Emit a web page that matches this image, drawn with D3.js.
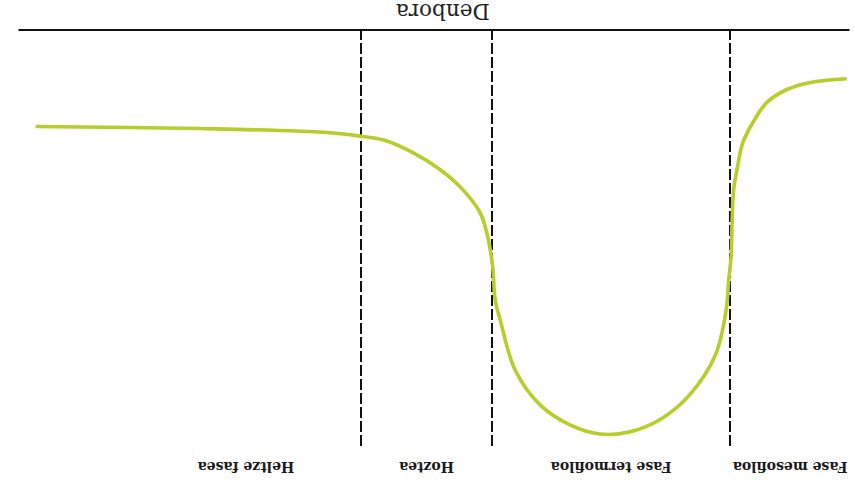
<!DOCTYPE html>
<html>
<head>
<meta charset="utf-8">
<script src="https://cdn.jsdelivr.net/npm/d3@7"></script>
<style>
  html, body { margin: 0; padding: 0; background: #fff; }
  svg { display: block; }
</style>
</head>
<body>
<svg id="chart" width="855" height="486"></svg>
<script>
// Time (days, 0-100 relative units) and temperature (relative 0-100)
const days  = [0.4, 4.8, 7.6, 10.0, 11.7, 12.9, 13.6, 14.0, 14.2, 14.3, 14.6, 14.9, 16.2, 19.3, 22.9, 26.5, 30.1, 33.7, 37.3, 40.3, 42.1, 42.7, 43.0, 43.6, 44.5, 46.6, 49.3, 52.6, 56.2, 58.7, 62.6, 78.2, 98.0];
const temps = [11.6, 12.5, 14.2, 17.3, 22.2, 27.0, 33.5, 38.3, 47.0, 54.2, 60.2, 67.2, 78.1, 87.7, 93.7, 96.6, 97.1, 94.9, 90.1, 81.7, 69.6, 64.8, 56.9, 49.6, 43.9, 38.3, 33.5, 29.4, 26.3, 25.5, 24.6, 23.6, 23.1];

const phaseNames  = ["Fase mesofiloa", "Fase termofiloa", "Hoztea", "Heltze fasea"];
const phaseStarts = [0, 14.4, 43.1, 58.8];
const phaseEnds   = [14.4, 43.1, 58.8, 86.6];
const axisTitle = "Denbora";

const W = 855, H = 486;
const svg = d3.select("#chart");
// whole chart is drawn upside-down (rotated 180°)
const g = svg.append("g").attr("transform", `rotate(180, ${W/2}, ${H/2})`);

const x = d3.scaleLinear().domain([0, 100]).range([5, 836]);
const y = d3.scaleLinear().domain([0, 100]).range([455.5, 40]);

// phase separators (dashed)
g.selectAll("line.sep")
  .data(phaseStarts.slice(1))
  .join("line")
  .attr("class", "sep")
  .attr("x1", d => Math.round(x(d)))
  .attr("x2", d => Math.round(x(d)))
  .attr("y1", y(100))
  .attr("y2", y(0))
  .attr("stroke", "#111")
  .attr("stroke-width", 2)
  .attr("stroke-dasharray", "11,3");

// x axis line
const axis = d3.axisBottom(x).tickValues([]).tickSizeOuter(0);
const ag = g.append("g").attr("transform", `translate(0, ${y(0)})`).call(axis);
ag.select(".domain").attr("stroke", "#111").attr("stroke-width", 2);

// axis title
g.append("text")
  .attr("x", x(49))
  .attr("y", 482)
  .attr("text-anchor", "middle")
  .attr("font-family", "'DejaVu Serif', serif")
  .attr("font-size", 21.5)
  .attr("fill", "#222")
  .text(axisTitle);

// phase labels
g.selectAll("text.phase")
  .data(phaseNames.map((n, i) => ({ name: n, mid: (phaseStarts[i] + phaseEnds[i]) / 2 })))
  .join("text")
  .attr("class", "phase")
  .attr("x", d => x(d.mid))
  .attr("y", 24)
  .attr("text-anchor", "middle")
  .attr("font-family", "'DejaVu Serif', serif")
  .attr("font-weight", "bold")
  .attr("font-size", 14)
  .attr("fill", "#1a1a1a")
  .text(d => d.name);

// temperature curve
const pts = days.map((d, i) => [d, temps[i]]);
const line = d3.line()
  .x(d => x(d[0]))
  .y(d => y(d[1]))
  .curve(d3.curveCatmullRom.alpha(0.5));

g.append("path")
  .datum(pts)
  .attr("d", line)
  .attr("fill", "none")
  .attr("stroke", "#b6cd2b")
  .attr("stroke-width", 3.6)
  .attr("stroke-linecap", "butt");
</script>
</body>
</html>
